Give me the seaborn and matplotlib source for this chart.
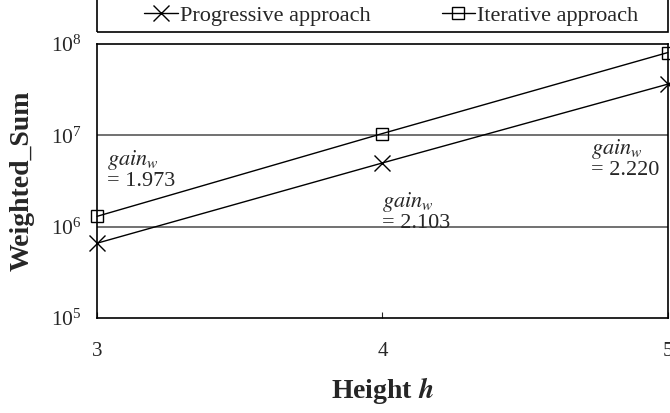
import matplotlib
matplotlib.use("Agg")
import matplotlib.pyplot as plt
import seaborn as sns
from matplotlib.patches import Rectangle

heights = [3, 4, 5]
progressive = [6.6e5, 5.0e6, 3.65e7]
iterative = [1.3e6, 1.05e7, 8.1e7]
gain_labels = ["1.973", "2.103", "2.220"]

sns.set_style("white")
plt.rcParams['font.family'] = ['Liberation Serif', 'DejaVu Serif']
plt.rcParams['mathtext.fontset'] = 'stix'

fig = plt.figure(figsize=(6.7, 4.13), dpi=100)
ax = fig.add_axes([0.1448, 0.23, 0.852, 0.663])

sns.lineplot(x=heights, y=progressive, ax=ax, color='black', linewidth=1,
             marker='x', markersize=11, markeredgewidth=1, markeredgecolor='black',
             label='Progressive approach', clip_on=False)
sns.lineplot(x=heights, y=iterative, ax=ax, color='black', linewidth=1,
             marker='s', markersize=9, markerfacecolor='none', markeredgecolor='black',
             markeredgewidth=1, label='Iterative approach', clip_on=False)

ax.set_yscale('log')
ax.set_ylim(1e5, 1e8)
ax.set_xlim(3, 5)
ax.set_xticks(heights)
ax.set_yticks([1e5, 1e6, 1e7, 1e8])
ax.minorticks_off()
for v in [1e6, 1e7]:
    ax.axhline(v, color='#666666', linewidth=1.3, zorder=0)

for s in ax.spines.values():
    s.set_color('black')
    s.set_linewidth(1.2)
ax.tick_params(axis='x', direction='in', length=4, pad=17, labelsize=15, bottom=True)
ax.tick_params(axis='y', length=0, pad=11, labelsize=15.5)

ax.set_xlabel(r'Height $\mathbfit{h}$', fontsize=20, fontweight='bold', labelpad=10)
ax.set_ylabel('Weighted_Sum', fontsize=20, fontweight='bold', labelpad=12)

# gain annotations
ann_pos = [(3.035, 7.2e6), (3.998, 2.5e6), (4.73, 9.6e6)]
for (x, y), g in zip(ann_pos, gain_labels):
    ax.text(x, y, r'$gain_w$' + '\n= ' + g, fontsize=16, va='top', ha='left',
            linespacing=1.0)

handles, labels = ax.get_legend_handles_labels()
ax.get_legend().remove()
fig.legend(handles, labels, loc='center', bbox_to_anchor=(0.584, 0.962), ncol=2,
           frameon=False, fontsize=16, handlelength=1.5, handletextpad=0.1,
           columnspacing=3.2)
fig.add_artist(Rectangle((0.1448, 0.9225), 0.852, 0.1, transform=fig.transFigure,
                         fill=False, edgecolor='black', linewidth=1.2))

fig.savefig('out.png', dpi=100)
